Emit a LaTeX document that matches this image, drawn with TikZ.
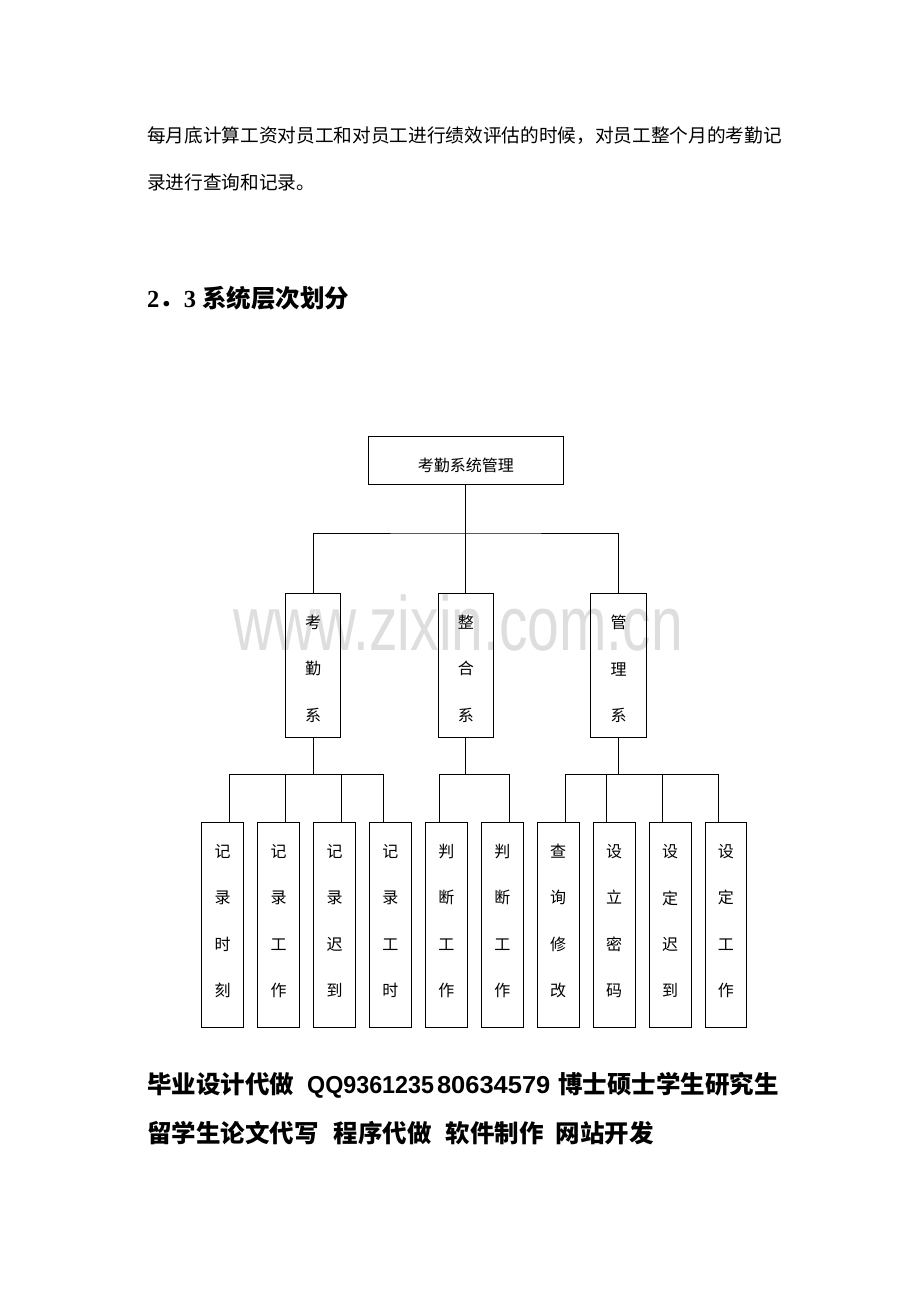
\documentclass[tikz,border=0pt]{standalone}
\usepackage{fontspec}
\newfontfamily\cjk{Noto Sans CJK SC}
\newfontfamily\libsans{Liberation Sans}
\newfontfamily\libserif{Liberation Serif}
\usetikzlibrary{calc}
\begin{document}
\begin{tikzpicture}[x=1pt,y=-1pt,
  box/.style={draw=black, line width=0.9pt, inner sep=0pt},
  vtext/.style={font=\cjk\fontsize{16}{46.3}\selectfont, align=center, inner sep=0pt},
  htext/.style={font=\cjk\fontsize{16}{16}\selectfont, inner sep=0pt},
  conn/.style={draw=black, line width=0.9pt},
  plain/.style={anchor=west, inner sep=0pt},
]
\useasboundingbox (0,0) rectangle (920,1302);
\fill[white] (0,0) rectangle (920,1302);
% watermark
\node[anchor=base west, inner sep=0pt, text=black!13, font=\libsans\fontsize{57}{57}\selectfont, yscale=1.35] (wm) at (233,650) {www.zixin.com.cn};
% body text
\node[plain, font=\cjk\fontsize{18.67}{18.67}\selectfont] (p1) at (147,136) {每月底计算工资对员工和对员工进行绩效评估的时候，对员工整个月的考勤记};
\node[plain, font=\cjk\fontsize{18.67}{18.67}\selectfont] (p2) at (147,182) {录进行查询和记录。};
% heading
\node[plain, font=\fontsize{24.5}{24.5}\selectfont\bfseries] (head) at (147,298) {\libserif 2\cjk ．\libserif 3 \cjk 系统层次划分};
% top box
\node[box, minimum width=195pt, minimum height=48pt, label={[htext, yshift=-5pt]center:考勤系统管理}] (top) at (465.8,460) {};
% middle boxes
\node[box, minimum width=55.7pt, minimum height=144.7pt, label={[vtext, yshift=-3.5pt]center:考\\勤\\系}] (m1) at (313,665.3) {};
\node[box, minimum width=55.7pt, minimum height=144.7pt, label={[vtext, yshift=-3.5pt]center:整\\合\\系}] (m2) at (465.8,665.3) {};
\node[box, minimum width=55.7pt, minimum height=144.7pt, label={[vtext, yshift=-3.5pt]center:管\\理\\系}] (m3) at (618.5,665.3) {};
% bottom boxes
\foreach \i/\t/\o in {1/{记\\录\\时\\刻}/27.7, 2/{记\\录\\工\\作}/28, 3/{记\\录\\迟\\到}/28.4, 4/{记\\录\\工\\时}/14.4, 5/{判\\断\\工\\作}/14.4, 6/{判\\断\\工\\作}/28, 7/{查\\询\\修\\改}/28.4, 8/{设\\立\\密\\码}/14, 9/{设\\定\\迟\\到}/14, 10/{设\\定\\工\\作}/14}{
  \pgfmathsetmacro{\cx}{201.8+55.92*(\i-1)+20.9}
  \node[box, minimum width=41.8pt, minimum height=204.7pt, label={[vtext, yshift=3.6pt]center:\t}] (c\i) at (\cx,924.65) {};
  \coordinate (t\i) at ([xshift=\o pt]c\i.north west);
}
% junction coordinates
\coordinate (b0) at (465.8,533);
\coordinate (g1) at (313,774.3);
\coordinate (g2) at (465.8,774.3);
\coordinate (g3) at (618.5,774.3);
% connectors level 1
\draw[conn] (top.south) -- (b0);
\draw[conn] (m1.north) |- (b0) -| (m3.north);
\draw[conn] (b0) -- (m2.north);
% connectors level 2
\draw[conn] (m1.south) -- (g1);
\draw[conn] (t1) |- (g1) -| (t4);
\draw[conn] (t2) -- (t2 |- g1);
\draw[conn] (t3) -- (t3 |- g1);
\draw[conn] (m2.south) -- (g2);
\draw[conn] (t5) |- (g2) -| (t6);
\draw[conn] (m3.south) -- (g3);
\draw[conn] (t7) |- (g3) -| (t10);
\draw[conn] (t8) -- (t8 |- g3);
\draw[conn] (t9) -- (t9 |- g3);
% footer
\node[plain, font=\fontsize{24.5}{24.5}\selectfont\bfseries] (f1) at (147,1085) {\cjk 毕业设计代做\hspace{13pt}\libsans\scalebox{0.95}[1]{QQ9361235}\hspace{3pt}\scalebox{1.04}[1]{80634579}\hspace{8pt}\cjk 博士硕士学生研究生};
\node[plain, font=\fontsize{24.5}{24.5}\selectfont\bfseries] (f2) at (147,1133) {\cjk 留学生论文代写\hspace{15pt}程序代做\hspace{14pt}软件制作\hspace{12pt}网站开发};
\end{tikzpicture}
\end{document}
